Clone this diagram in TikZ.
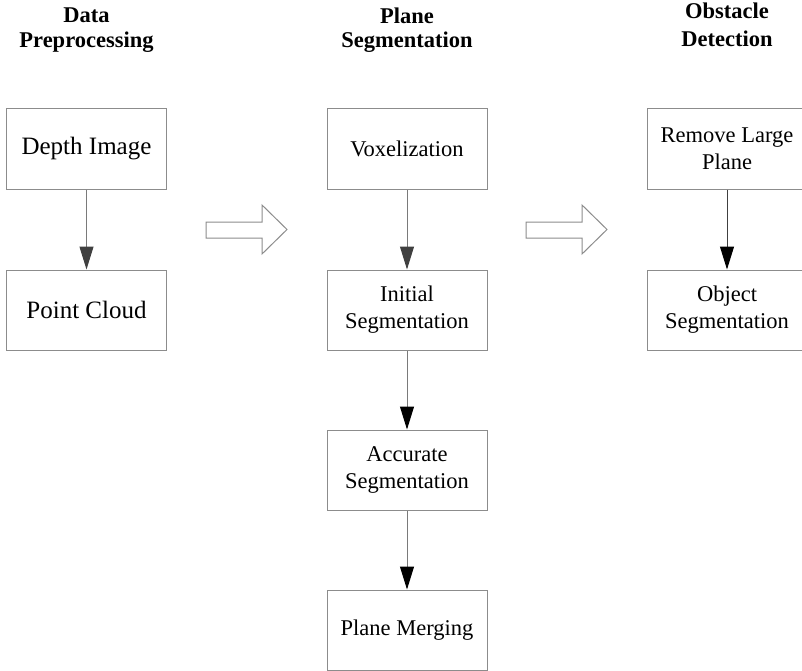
\documentclass[tikz,border=0pt]{standalone}
\usepackage{fontspec}
\setmainfont{Liberation Serif}
\usetikzlibrary{arrows.meta}
\definecolor{boxgray}{HTML}{8C8C8C}
\definecolor{linegray}{HTML}{7A7A7A}
\definecolor{headgray}{HTML}{404040}

\tikzset{
  stage/.style={draw=boxgray, line width=1pt, minimum width=160pt, minimum height=80pt,
    align=center, inner sep=2pt, font=\fontsize{22.5}{27}\selectfont},
  bigstage/.style={stage, font=\fontsize{25}{30}\selectfont},
  title/.style={align=center, font=\fontsize{22.5}{24.5}\selectfont\bfseries},
  flow/.style={draw=linegray, line width=1pt, -{Triangle[length=23pt,width=14pt,color=#1]}},
  flow/.default=black,
  bigarrow/.style={draw=boxgray, line width=1pt, fill=white}
}

\begin{document}
\begin{tikzpicture}[x=1pt, y=-1pt]
\useasboundingbox (0,0) rectangle (802,671);
\clip (0,0) rectangle (802,671);

% Column 1: data preprocessing
\node[title] (t1) at (86.5,30) {Data\\Preprocessing};
\node[bigstage] (depth) at (86.5,149) {Depth Image};
\node[bigstage] (cloud) at (86.5,310) {Point Cloud};
\draw[flow=headgray] (depth) -- (cloud);

% Column 2: plane segmentation
\node[title] (t2) at (407,30) {Plane\\Segmentation};
\node[stage] (voxel) at (407,149) {Voxelization};
\node[stage] (initseg) at (407,310) {Initial\\Segmentation};
\node[stage] (accseg) at (407,470) {Accurate\\Segmentation};
\node[stage] (merge) at (407,630) {Plane Merging};
\draw[flow=headgray] (voxel) -- (initseg);
\draw[flow] (initseg) -- (accseg);
\draw[flow] (accseg) -- (merge);

% Column 3: obstacle detection
\node[title, font=\fontsize{22.5}{28}\selectfont\bfseries] (t3) at (727,25) {Obstacle\\Detection};
\node[stage] (remove) at (727,149) {Remove Large\\Plane};
\node[stage] (object) at (727,310) {Object\\Segmentation};
\draw[flow, draw=headgray] (remove) -- (object);

% Block arrows between stages
\draw[bigarrow] (206,222) -- (262,222) -- (262,205) -- (287,229.5) -- (262,254)
  -- (262,238) -- (206,238) -- cycle;
\draw[bigarrow] (526,222) -- (582,222) -- (582,205) -- (607,229.5) -- (582,254)
  -- (582,238) -- (526,238) -- cycle;

\end{tikzpicture}
\end{document}
